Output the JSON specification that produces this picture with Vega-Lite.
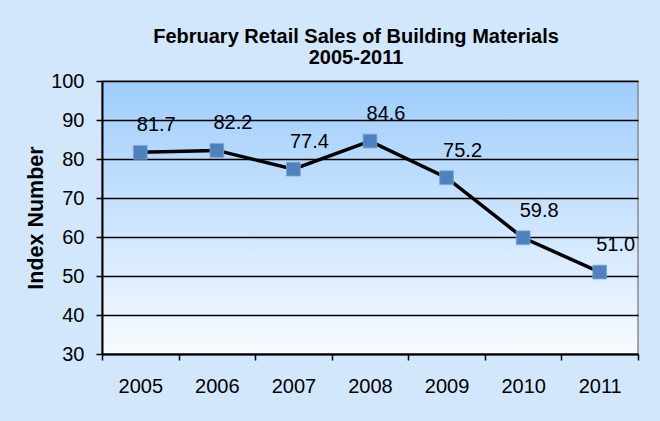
{
  "$schema": "https://vega.github.io/schema/vega-lite/v6.json",
  "width": 536,
  "height": 273,
  "autosize": {"type": "none"},
  "padding": {"left": 102, "top": 81, "right": 22, "bottom": 67},
  "background": "#d3e7fc",
  "config": {
    "view": {
      "stroke": "#8a8a8a",
      "strokeWidth": 1.5,
      "fill": {"gradient": "linear", "x1": 0, "y1": 0, "x2": 0, "y2": 1,
        "stops": [{"offset": 0, "color": "#9ecdfd"}, {"offset": 1, "color": "#f8fbff"}]}
    },
    "font": "Liberation Sans"
  },
  "title": {
    "text": ["February Retail Sales of Building Materials", "2005-2011"],
    "font": "Liberation Sans",
    "fontSize": 20,
    "fontWeight": "bold",
    "color": "#000000",
    "anchor": "middle",
    "dx": -14,
    "lineHeight": 21,
    "offset": 3
  },
  "data": {
    "values": [
      {"year": "2005", "value": 81.7},
      {"year": "2006", "value": 82.2},
      {"year": "2007", "value": 77.4},
      {"year": "2008", "value": 84.6},
      {"year": "2009", "value": 75.2},
      {"year": "2010", "value": 59.8},
      {"year": "2011", "value": 51.0}
    ]
  },
  "encoding": {
    "x": {
      "field": "year", "type": "ordinal", "bandPosition": 0.5,
      "scale": {"type": "band", "paddingInner": 0, "paddingOuter": 0},
      "axis": {
        "title": null, "labelAngle": 0, "labelFontSize": 20, "labelColor": "#000000",
        "domainColor": "#000000", "domainWidth": 2, "tickColor": "#000000", "tickWidth": 1.5,
        "tickSize": 6, "tickBand": "extent", "labelPadding": 16, "grid": false
      }
    },
    "y": {
      "field": "value", "type": "quantitative",
      "scale": {"domain": [30, 100], "nice": false, "zero": false},
      "axis": {
        "values": [30, 40, 50, 60, 70, 80, 90, 100],
        "title": "Index Number", "titleFontSize": 21.5, "titleFontWeight": "bold", "titleColor": "#000000",
        "titlePadding": 3,
        "labelFontSize": 20, "labelColor": "#000000", "labelPadding": 12,
        "domainColor": "#000000", "domainWidth": 2, "tickColor": "#000000", "tickWidth": 1.5, "tickSize": 6,
        "grid": true, "gridColor": "#000000", "gridWidth": 1.5
      }
    }
  },
  "layer": [
    {"mark": {"type": "line", "color": "#000000", "strokeWidth": 3.5}},
    {"mark": {"type": "point", "shape": "square", "filled": true, "color": "#4f81bd", "size": 190, "opacity": 1, "stroke": "#7ea6d6", "strokeWidth": 0.8}},
    {"mark": {"type": "text", "fontSize": 20, "dx": 16, "dy": -27, "color": "#000000"},
     "encoding": {"text": {"field": "value", "type": "quantitative", "format": ".1f"}}}
  ]
}
